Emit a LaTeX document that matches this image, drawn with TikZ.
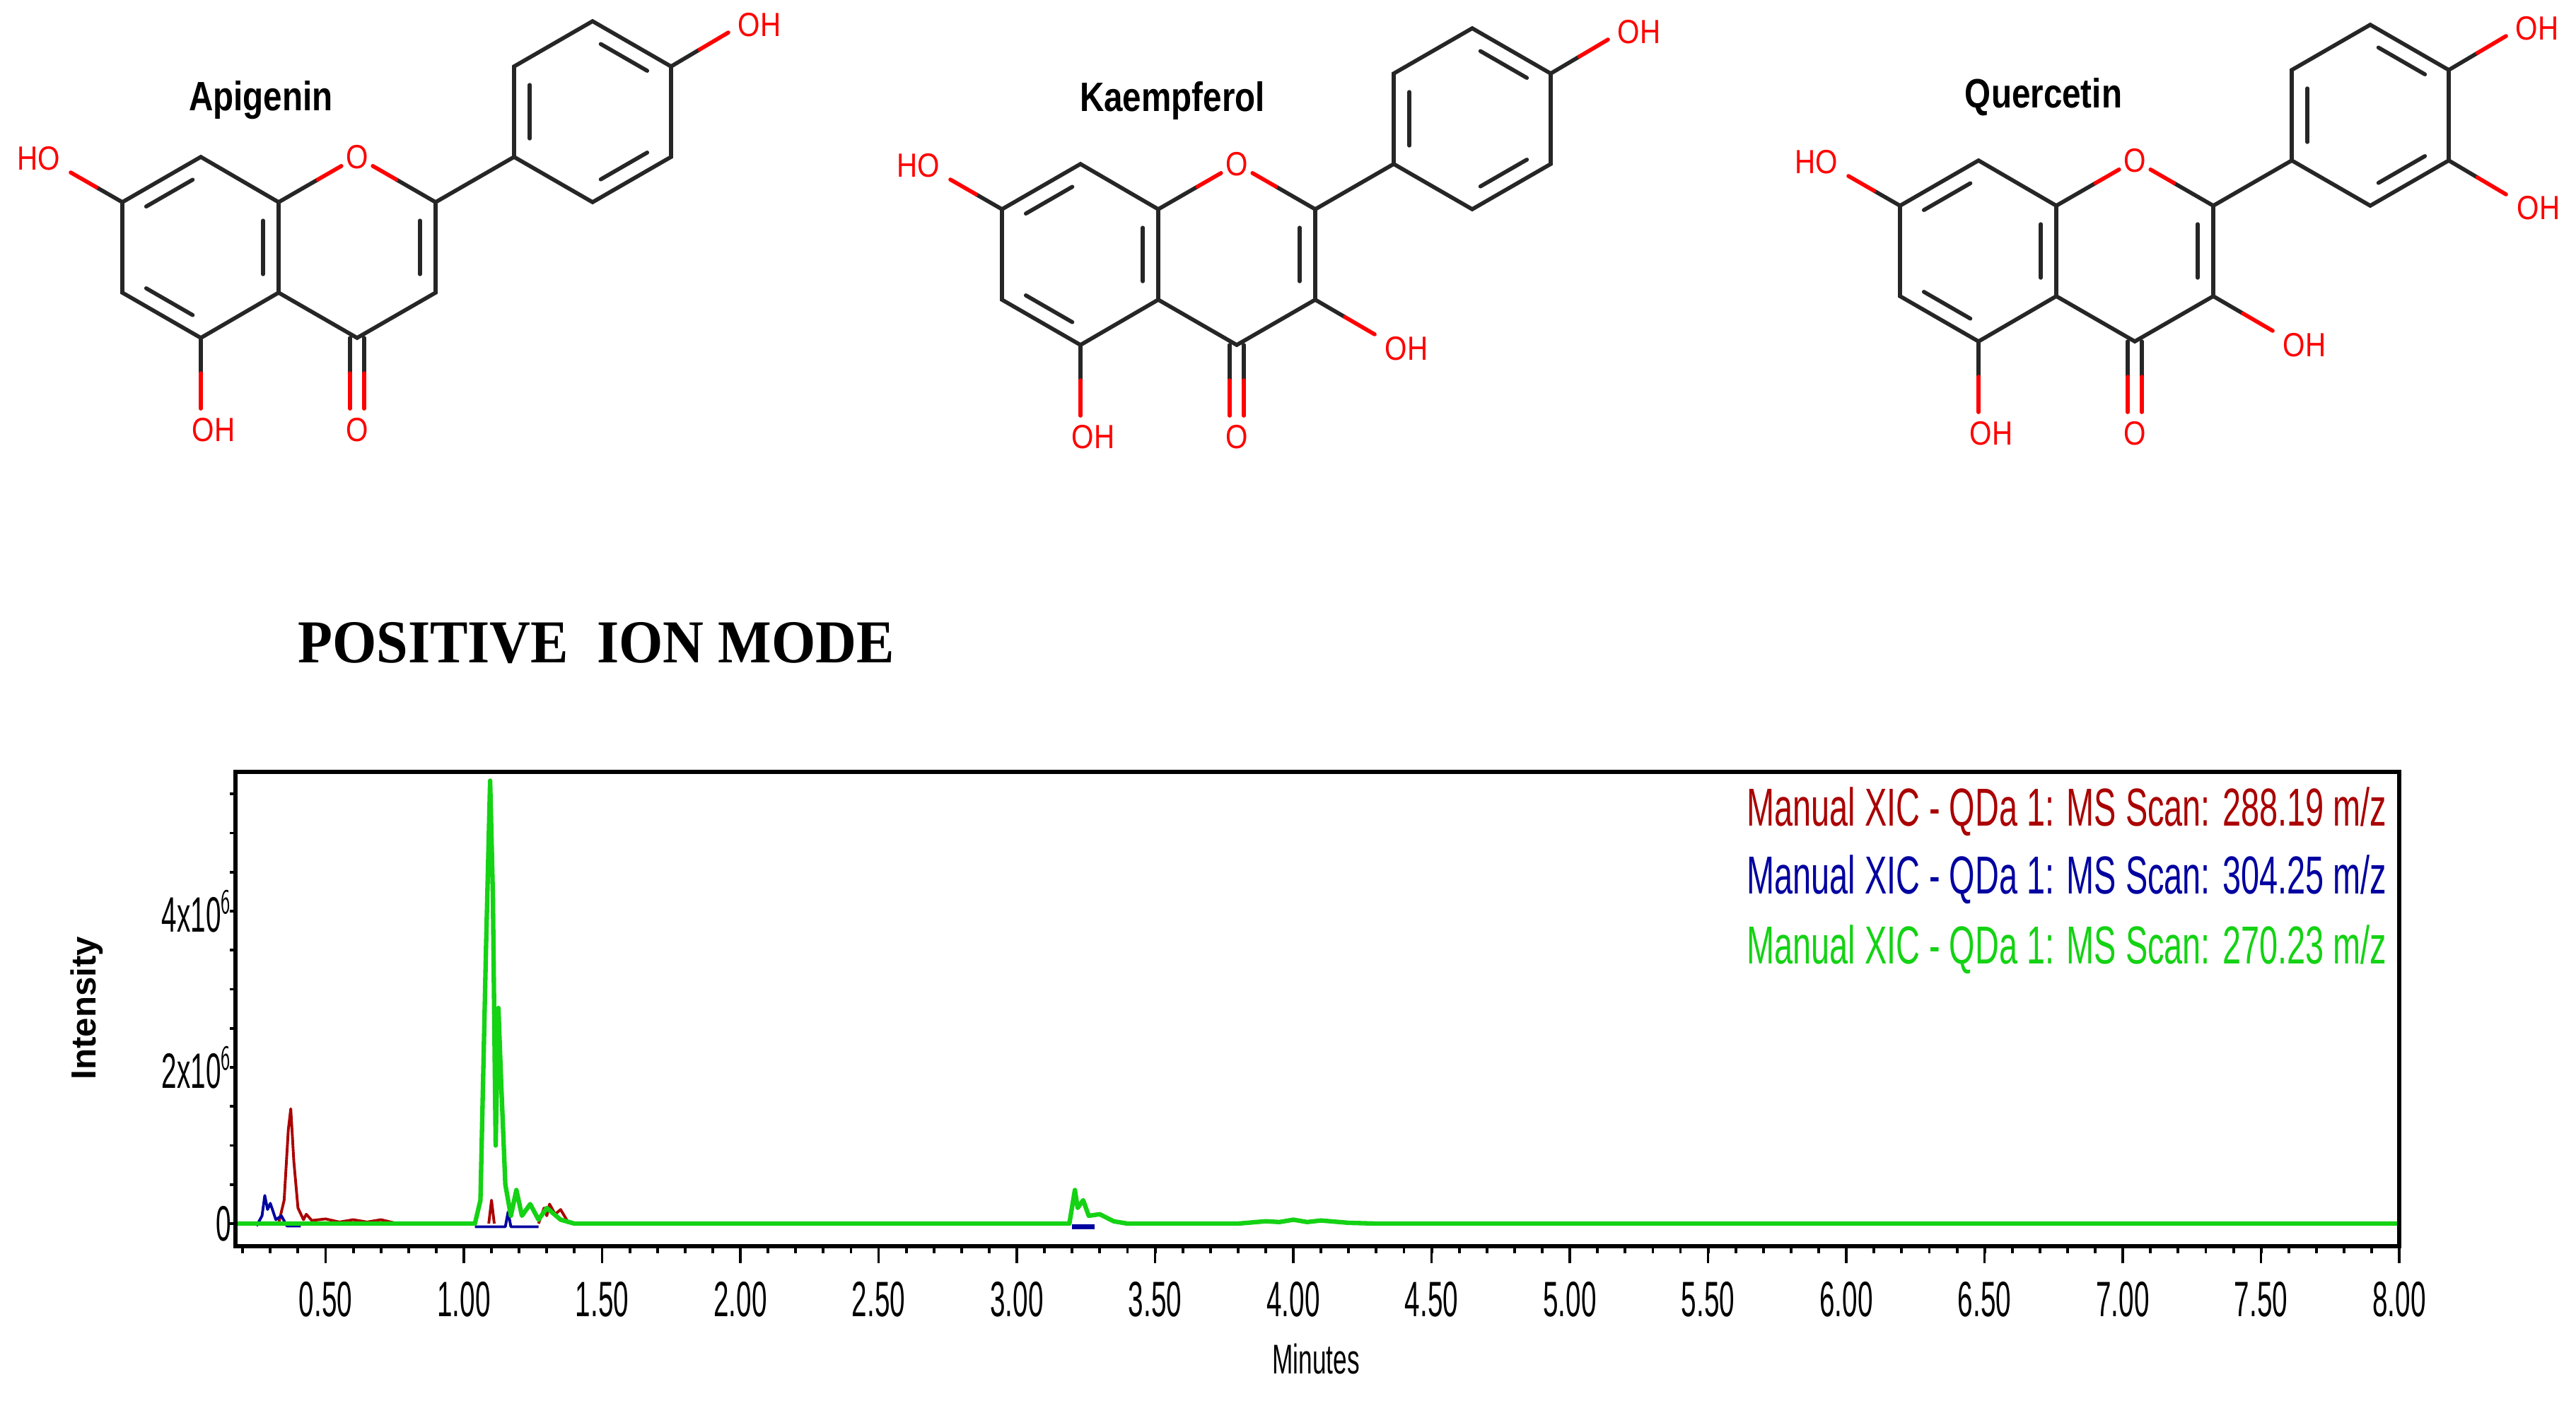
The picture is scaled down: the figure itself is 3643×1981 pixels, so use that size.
\documentclass[tikz,border=0pt]{standalone}
\usepackage{fontspec}
\setmainfont{Liberation Sans}
\newfontfamily\serifb{Liberation Serif}
\usetikzlibrary{calc}
\definecolor{atomred}{RGB}{255,0,0}
\definecolor{trred}{RGB}{170,0,0}
\definecolor{trblue}{RGB}{0,0,160}
\definecolor{trgreen}{RGB}{20,210,20}
\newcommand\cnd[2]{\scalebox{#1}[1]{#2}}
\newcommand\dbl[3]{\coordinate (da) at ($(#1)!0.8!(#2)$);\coordinate (db) at ($(#1)!0.8!(#3)$);\draw[bond] ($(da)!0.13!(db)$) -- ($(db)!0.13!(da)$);}
\newcommand\hetb[3]{\coordinate (hm) at ($(#1)!0.5!(#2)$);\draw[bond] (#1) -- (hm);\draw[bond,atomred] (hm) -- ($(#1)!#3!(#2)$);}
\tikzset{
  bond/.style={line width=1.6pt,black!85,line cap=round},
  atom/.style={text=atomred,font=\fontsize{13.5}{13}\selectfont,inner sep=0pt},
  title/.style={font=\bfseries\fontsize{16.5}{16}\selectfont,inner sep=0pt},
  tick/.style={line width=1.1pt},
  ticklab/.style={font=\fontsize{20}{20}\selectfont,inner sep=0pt},
  legend/.style={font=\fontsize{21.5}{21}\selectfont,inner sep=0pt,anchor=east},
  trace/.style={line width=1.1pt,line join=round}
}
\newcommand\core{%
  \coordinate (A1) at (173,286);\coordinate (A2) at (284,222);\coordinate (A3) at (394,286);
  \coordinate (A4) at (394,414);\coordinate (A5) at (284,478);\coordinate (A6) at (173,414);
  \coordinate (O1) at (505,222);\coordinate (C2) at (616,286);\coordinate (C3) at (616,414);
  \coordinate (C4) at (505,478);
  \coordinate (P1) at (727,222);\coordinate (P2) at (727,94);\coordinate (P3) at (838,30);
  \coordinate (P4) at (949,94);\coordinate (P5) at (949,222);\coordinate (P6) at (838,286);
  \coordinate (cA) at (284,350);\coordinate (cC) at (505,350);\coordinate (cP) at (838,158);
  \draw[bond] (A1)--(A2)--(A3)--(A4)--(A5)--(A6)--cycle;
  \draw[bond] (C2)--(C3)--(C4)--(A4);
  \draw[bond] (P1)--(P2)--(P3)--(P4)--(P5)--(P6)--cycle;
  \draw[bond] (C2)--(P1);
  \dbl{cA}{A1}{A2}\dbl{cA}{A3}{A4}\dbl{cA}{A5}{A6}
  \dbl{cC}{C2}{C3}
  \dbl{cP}{P1}{P2}\dbl{cP}{P3}{P4}\dbl{cP}{P5}{P6}
  \hetb{A3}{O1}{0.8}\hetb{C2}{O1}{0.8}
  \node[atom] (ringO) at (O1) {\cnd{0.85}{O}};
  \coordinate (E7) at (100,244);\hetb{A1}{E7}{1}
  \node[atom] (HO7) at (55,224) {\cnd{0.85}{HO}};
  \coordinate (E5) at (284,578);\hetb{A5}{E5}{1}
  \node[atom] (OH5) at (302,608) {\cnd{0.85}{OH}};
  \coordinate (K1) at (495,478);\coordinate (K2) at (515,478);
  \coordinate (K1e) at (495,578);\coordinate (K2e) at (515,578);
  \hetb{K1}{K1e}{1}\hetb{K2}{K2e}{1}
  \node[atom] (carbO) at (505,608) {\cnd{0.85}{O}};
  \coordinate (E4) at (1030,46);\hetb{P4}{E4}{1}
  \node[atom] (OH4) at (1074,35) {\cnd{0.85}{OH}};
}
\begin{document}
\begin{tikzpicture}[x=0.01cm,y=-0.01cm]
\useasboundingbox[fill=white] (0,0) rectangle (3643,1981);
% molecules
\begin{scope}\core\end{scope}
\begin{scope}[shift={(1244,10)}]\core
  \coordinate (E3) at (700,463);\hetb{C3}{E3}{1}
  \node[atom] (OH3k) at (745,483) {\cnd{0.85}{OH}};
\end{scope}
\begin{scope}[shift={(2514,5)}]\core
  \coordinate (E3) at (700,463);\hetb{C3}{E3}{1}
  \node[atom] (OH3q) at (745,483) {\cnd{0.85}{OH}};
  \coordinate (E3p) at (1030,270);\hetb{P5}{E3p}{1}
  \node[atom] (OH3p) at (1076,289) {\cnd{0.85}{OH}};
\end{scope}
\node[title] (tApi) at (369,142) {\cnd{0.82}{Apigenin}};
\node[title] (tKae) at (1658,142) {\cnd{0.82}{Kaempferol}};
\node[title] (tQue) at (2890,137) {\cnd{0.82}{Quercetin}};
\node[font=\serifb\bfseries\fontsize{24.5}{24}\selectfont,inner sep=0pt] (mode) at (843,910) {\cnd{0.93}{POSITIVE\ \ ION MODE}};
% chromatogram
\begin{scope}[shift={(265,1731)},xscale=391,yscale=-110.5]
  \draw[trace,trred] (0.33,0)--(0.35,0.3)--(0.365,1.2)--(0.374,1.47)--(0.385,0.8)--(0.40,0.2)--(0.42,0.05)--(0.43,0.12)--(0.45,0.04)--(0.5,0.06)--(0.55,0.02)--(0.6,0.05)--(0.65,0.02)--(0.7,0.05)--(0.76,0);
  \draw[trace,trred] (1.09,0)--(1.10,0.3)--(1.11,0);
  \draw[trace,trred] (1.27,0)--(1.29,0.2)--(1.30,0.1)--(1.31,0.25)--(1.33,0.12)--(1.35,0.18)--(1.38,0);
  \draw[trace,trblue] (0.25,-0.03)--(0.27,0.1)--(0.28,0.36)--(0.29,0.18)--(0.30,0.26)--(0.32,0.05)--(0.34,0.1)--(0.36,-0.03)--(0.41,-0.03);
  \draw[trace,trblue] (1.04,-0.04)--(1.15,-0.04)--(1.16,0.15)--(1.17,-0.04)--(1.27,-0.04);
  \draw[trace,trblue,line width=2pt] (3.2,-0.04)--(3.28,-0.04);
  \draw[trace,trgreen,line width=1.8pt] (0.17,0)--(1.04,0)--(1.06,0.3)--(1.08,3.5)--(1.095,5.67)--(1.105,4.2)--(1.115,1.0)--(1.125,2.76)--(1.135,1.8)--(1.15,0.5)--(1.17,0.1)--(1.19,0.43)--(1.21,0.1)--(1.24,0.25)--(1.27,0.05)--(1.30,0.2)--(1.35,0.05)--(1.4,0)--(3.19,0)--(3.21,0.43)--(3.22,0.2)--(3.24,0.3)--(3.26,0.1)--(3.3,0.12)--(3.35,0.03)--(3.4,0)--(3.8,0)--(3.9,0.03)--(3.95,0.02)--(4.0,0.05)--(4.05,0.02)--(4.1,0.04)--(4.2,0.01)--(4.3,0)--(8.0,0);
  \foreach \i in {0,0.5,...,5.6} \draw[tick] (0.174,\i) -- ++(-8/391,0);
  \foreach \t in {0.2,0.3,...,8.05} \draw[tick] (\t,-0.29) -- ++(0,-10/110.5);
  \foreach \t in {0.5,1.0,...,8.0} \draw[tick] (\t,-0.29) -- ++(0,-24/110.5);
  \foreach \t/\l in {0.5/0.50,1/1.00,1.5/1.50,2/2.00,2.5/2.50,3/3.00,3.5/3.50,4/4.00,4.5/4.50,5/5.00,5.5/5.50,6/6.00,6.5/6.50,7/7.00,7.5/7.50,8/8.00}
    \node[ticklab] (xl\t) at (\t,-0.97) {\cnd{0.55}{\l}};
  \node[ticklab,anchor=east] (y0) at (0.16,0) {\cnd{0.55}{0}};
  \node[ticklab,anchor=east] (y2) at (0.16,2) {\cnd{0.55}{2x10$^{\mathsf{6}}$}};
  \node[ticklab,anchor=east] (y4) at (0.16,4) {\cnd{0.55}{4x10$^{\mathsf{6}}$}};
\end{scope}
\draw[line width=1.5pt] (333,1092) rectangle (3393,1763);
\node[font=\fontsize{16.7}{17}\selectfont,inner sep=0pt] (xlab) at (1861,1922) {\cnd{0.6}{Minutes}};
\node[font=\bfseries\fontsize{14}{14}\selectfont,inner sep=0pt,rotate=90] (ylab) at (123,1426) {Intensity};
\node[legend,text=trred] (lg1) at (3376,1148) {\cnd{0.62}{Manual XIC - QDa 1: MS Scan: 288.19 m/z}};
\node[legend,text=trblue] (lg2) at (3376,1244) {\cnd{0.62}{Manual XIC - QDa 1: MS Scan: 304.25 m/z}};
\node[legend,text=trgreen] (lg3) at (3376,1343) {\cnd{0.62}{Manual XIC - QDa 1: MS Scan: 270.23 m/z}};
\end{tikzpicture}
\end{document}
